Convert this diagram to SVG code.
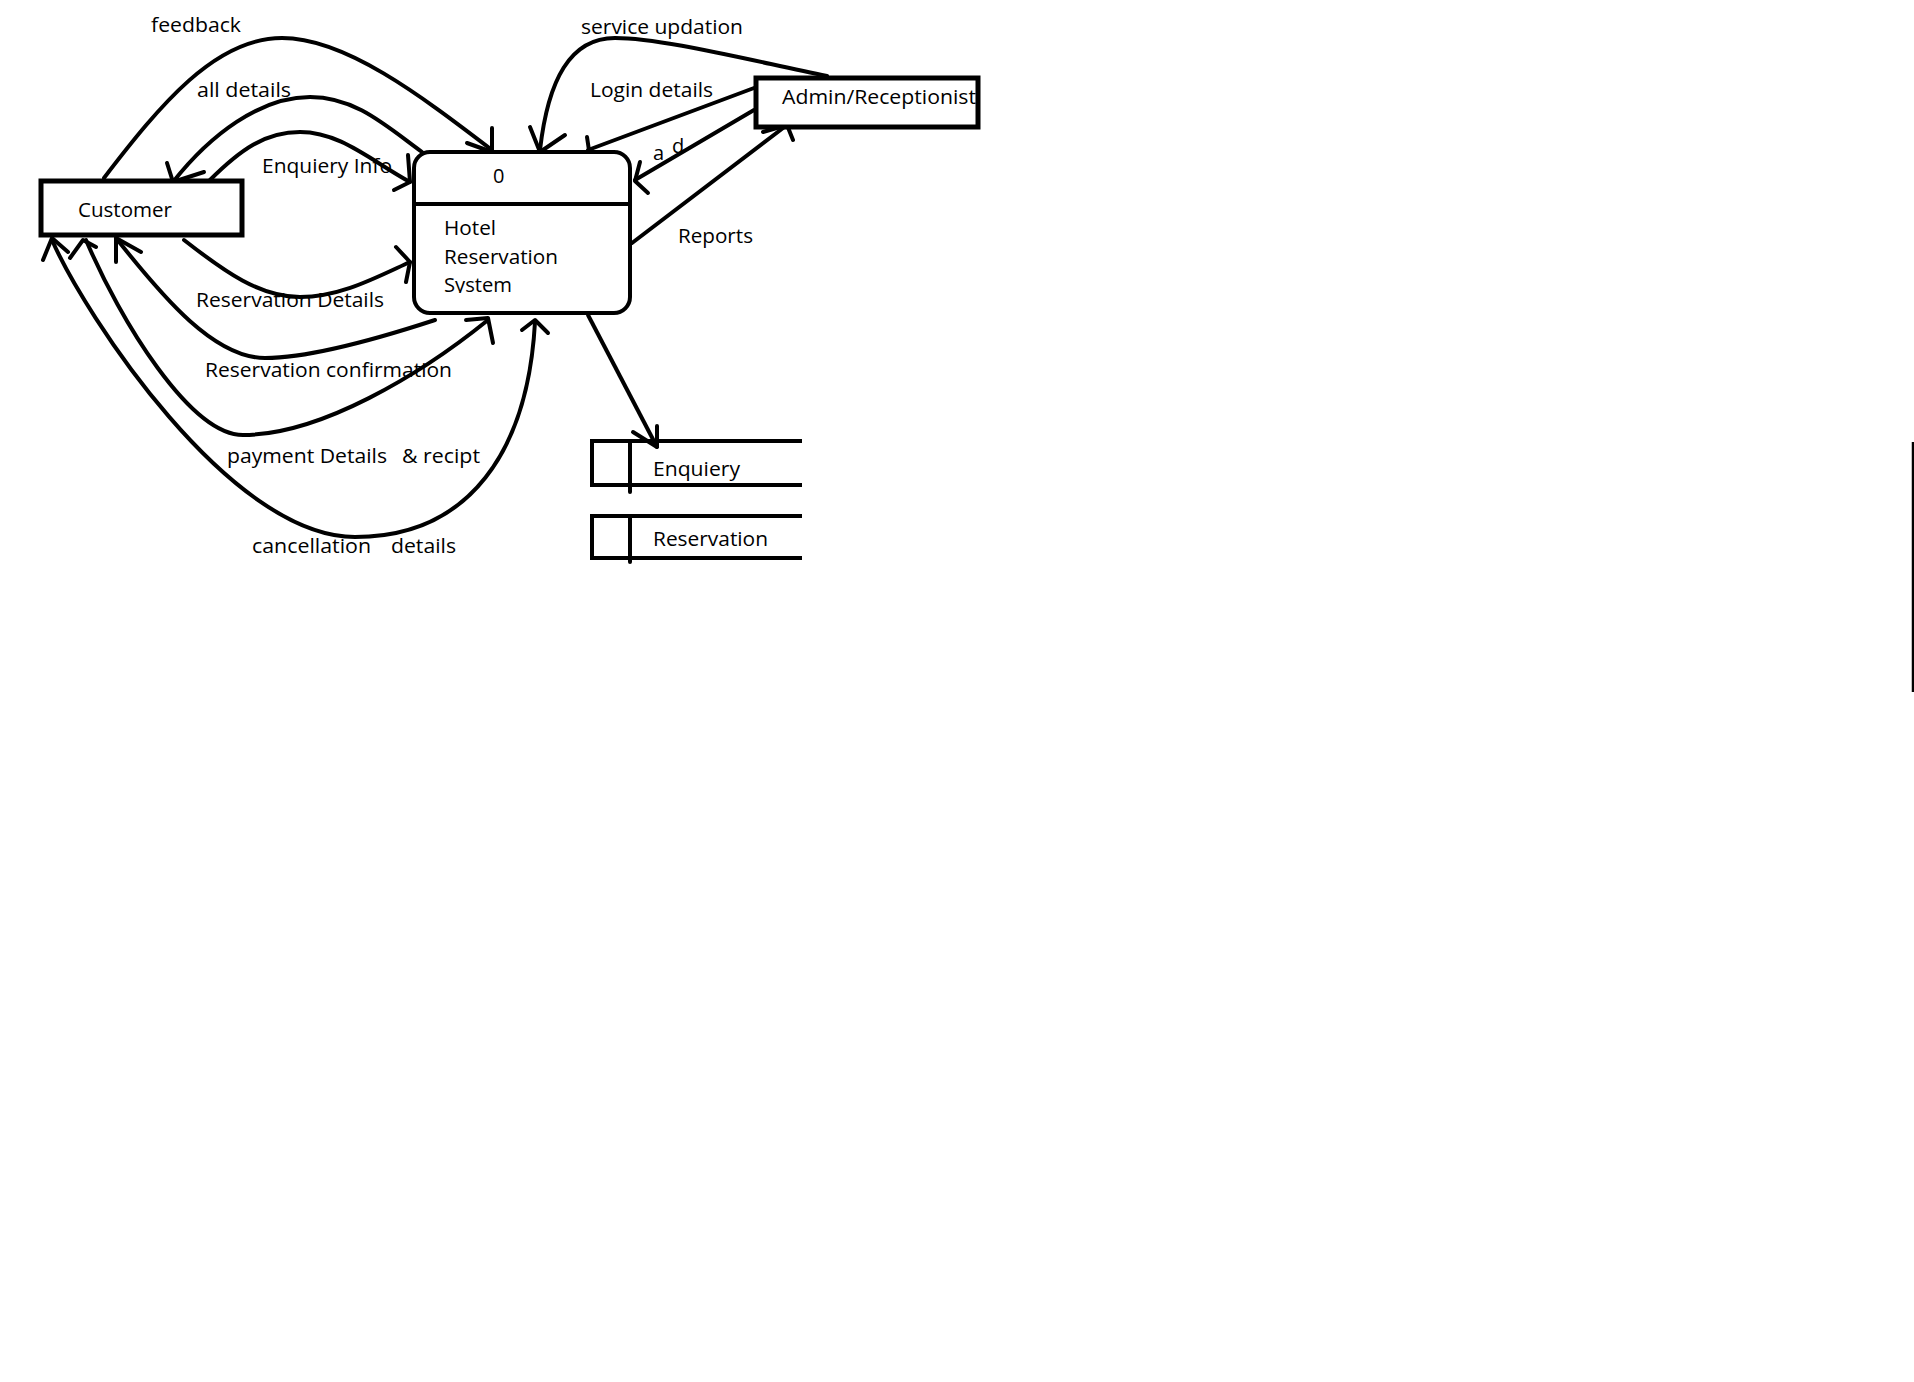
<svg xmlns="http://www.w3.org/2000/svg" width="1914" height="1382" viewBox="0 0 1914 1382">
<style>
  .t { font-family: "Open Sans", "Noto Sans", "DejaVu Sans", sans-serif; font-size: 20px; fill: #000; }
  .box { fill: #fff; stroke: #000; stroke-width: 5; }
  .proc { fill: #fff; stroke: #000; stroke-width: 4; }
  .ln { fill: none; stroke: #000; stroke-width: 4; stroke-linecap: round; stroke-linejoin: round; }
  .ds { fill: none; stroke: #000; stroke-width: 4; stroke-linecap: square; }
</style>
<defs>
  <clipPath id="sysclip"><rect x="414" y="150" width="216" height="143"/></clipPath>
</defs>
<rect width="1914" height="1382" fill="#fff"/>

<g id="connectors">
  <!-- feedback -->
  <path class="ln" d="M104,178 C160,105 215,38 282,38 C345,38 420,95 492,150"/>
  <path class="ln" d="M492,128 L492,152 L467,143"/>
  <!-- all details -->
  <path class="ln" d="M422,152 C385,125 355,97 310,97 C260,97 210,135 173,182"/>
  <path class="ln" d="M167,163 L173,182 L204,172"/>
  <!-- Enquiery Info -->
  <path class="ln" d="M210,180 C240,150 265,132 300,132 C340,132 370,160 410,182"/>
  <path class="ln" d="M408,155 L410,182 L394,190"/>
  <!-- Reservation Details -->
  <path class="ln" d="M184,240 C225,272 260,297 300,297 C340,297 375,278 410,262"/>
  <path class="ln" d="M396,247 L410,262 L406,282"/>
  <!-- Reservation confirmation -->
  <path class="ln" d="M435,320 C380,338 310,358 265,358 C215,358 165,300 116,238"/>
  <path class="ln" d="M116,262 L116,238 L141,252"/>
  <!-- payment Details & recipt -->
  <path class="ln" d="M86,240 C120,320 190,435 243,435 C320,435 420,375 488,320"/>
  <path class="ln" d="M70,258 L83,240 L96,247"/>
  <path class="ln" d="M466,320 L488,318 L493,343"/>
  <!-- cancellation details -->
  <path class="ln" d="M52,240 C85,315 230,537 355,537 C470,537 528,450 535,322"/>
  <path class="ln" d="M43,260 L52,238 L68,252"/>
  <path class="ln" d="M522,330 L535,320 L548,333"/>
  <!-- service updation -->
  <path class="ln" d="M827,76 C740,58 660,38 615,38 C570,38 548,80 540,150"/>
  <path class="ln" d="M530,127 L540,152 L565,135"/>
  <!-- Login details -->
  <path class="ln" d="M754,88 L588,150"/>
  <path class="ln" d="M587,137 L590,157"/>
  <!-- a d -->
  <path class="ln" d="M754,110 L635,180"/>
  <path class="ln" d="M640,162 L635,181 L648,193"/>
  <!-- Reports -->
  <path class="ln" d="M632,243 L787,125"/>
  <path class="ln" d="M763,132 L787,125 L793,140"/>
  <!-- to Enquiery store -->
  <path class="ln" d="M588,315 L657,447"/>
  <path class="ln" d="M633,432 L657,447 L657,426"/>
</g>

<g id="labels">
  <text class="t" x="151" y="32" textLength="90" lengthAdjust="spacingAndGlyphs">feedback</text>
  <text class="t" x="197" y="97" textLength="94" lengthAdjust="spacingAndGlyphs">all details</text>
  <text class="t" x="262" y="173" textLength="130" lengthAdjust="spacingAndGlyphs">Enquiery Info</text>
  <text class="t" x="196" y="307" textLength="188" lengthAdjust="spacingAndGlyphs">Reservation Details</text>
  <text class="t" x="205" y="377" textLength="247" lengthAdjust="spacingAndGlyphs">Reservation confirmation</text>
  <text class="t" y="463"><tspan x="227" textLength="160" lengthAdjust="spacingAndGlyphs">payment Details</tspan><tspan x="402" textLength="78" lengthAdjust="spacingAndGlyphs">&amp; recipt</tspan></text>
  <text class="t" y="553"><tspan x="252" textLength="119" lengthAdjust="spacingAndGlyphs">cancellation</tspan><tspan x="391" textLength="65" lengthAdjust="spacingAndGlyphs">details</tspan></text>
  <text class="t" x="581" y="34" textLength="162" lengthAdjust="spacingAndGlyphs">service updation</text>
  <text class="t" x="590" y="97" textLength="123" lengthAdjust="spacingAndGlyphs">Login details</text>
  <text class="t"><tspan x="653" y="160">a</tspan><tspan x="672" y="153">d</tspan></text>
  <text class="t" x="678" y="243" textLength="75" lengthAdjust="spacingAndGlyphs">Reports</text>
</g>

<g id="customer">
  <rect class="box" x="41" y="181" width="201" height="54"/>
  <text class="t" x="78" y="217" textLength="94" lengthAdjust="spacingAndGlyphs">Customer</text>
</g>

<g id="process">
  <rect class="proc" x="414" y="152" width="216" height="161" rx="16" ry="16"/>
  <line class="proc" x1="414" y1="204" x2="630" y2="204"/>
  <text class="t" x="493" y="183">0</text>
  <text class="t" x="444" y="235" textLength="52" lengthAdjust="spacingAndGlyphs">Hotel</text>
  <text class="t" x="444" y="264" textLength="114" lengthAdjust="spacingAndGlyphs">Reservation</text>
  <text class="t" x="444" y="292" textLength="68" lengthAdjust="spacingAndGlyphs" clip-path="url(#sysclip)">System</text>
</g>

<g id="admin">
  <rect class="box" x="756" y="78" width="222" height="49"/>
  <text class="t" x="782" y="104" textLength="194" lengthAdjust="spacingAndGlyphs">Admin/Receptionist</text>
</g>

<g id="store-enquiery">
  <path class="ds" d="M800,441 H592 V485 H800"/>
  <path class="ln" d="M630,441 V492"/>
  <text class="t" x="653" y="476" textLength="87" lengthAdjust="spacingAndGlyphs">Enquiery</text>
</g>

<g id="store-reservation">
  <path class="ds" d="M800,516 H592 V558 H800"/>
  <path class="ln" d="M630,516 V562"/>
  <text class="t" x="653" y="546" textLength="115" lengthAdjust="spacingAndGlyphs">Reservation</text>
</g>

<path d="M1913,442 V692" stroke="#000" stroke-width="2.5" fill="none"/>
</svg>
